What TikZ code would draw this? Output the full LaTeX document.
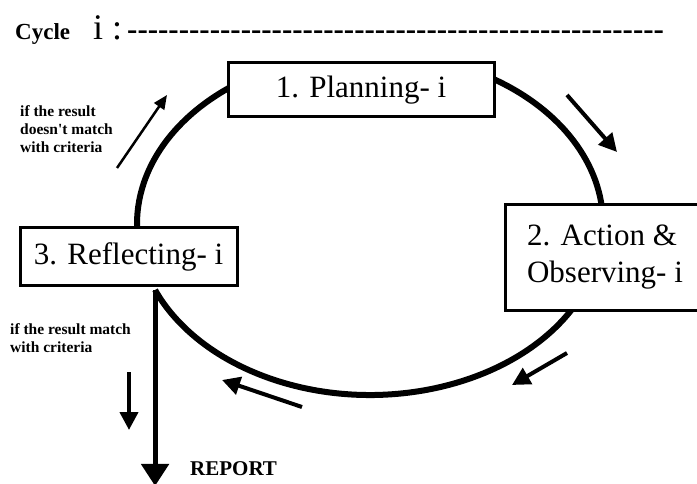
\documentclass[tikz,border=0pt]{standalone}
\usepackage{fontspec}
\setmainfont{Liberation Serif}
\usepackage{tikz}
\usetikzlibrary{arrows.meta, calc, backgrounds}

\begin{document}
\begin{tikzpicture}[
  x=1pt, y=-1pt,
  stage/.style={draw, line width=3pt, fill=white, inner sep=0pt,
    font=\fontsize{31}{37}\selectfont},
  note/.style={anchor=north west, inner sep=0pt, align=left,
    font=\bfseries\fontsize{15.5}{18}\selectfont},
  cyc/.style={line width=6pt},
  flow/.style={line width=4pt, -{Triangle[length=18pt, width=18pt]}},
  thinflow/.style={line width=2.5pt, -{Triangle[length=14pt, width=12pt]}}
]
  \useasboundingbox (0,0) rectangle (697,484);

  % Title
  \node[anchor=base west, inner sep=0pt, font=\bfseries\fontsize{23}{23}\selectfont]
    (cyclbl) at (15,40) {Cycle};
  \node[anchor=base west, inner sep=0pt, font=\fontsize{36}{36}\selectfont]
    (cycnum) at (93,40) {i :};
  \node[anchor=base west, inner sep=0pt, font=\bfseries\fontsize{31}{31}\selectfont]
    (cycdash) at (127,40) {\foreach \k in {1,...,52}{-\kern0pt}};

  % Stages
  \node[stage, minimum width=266pt, minimum height=54pt] (plan) at (361,90)
    {1. Planning- i};
  \node[stage, minimum width=200pt, minimum height=105pt, align=left] (act)
    at (605,257.5) {2. Action \&\\Observing- i};
  \node[stage, minimum width=217pt, minimum height=57pt] (refl) at (128.5,256.5)
    {3. Reflecting- i};

  % Cycle
  \coordinate (mid) at (370,224);
  \coordinate (split) at ($(mid)+(157.3:233 and 171)$);
  \coordinate (rep) at ($(split)+(0,196)$);
  \begin{scope}[on background layer]
    \draw[cyc] ($(mid)+(-60:233 and 171)$)
      arc[start angle=-60, end angle=-2, x radius=233, y radius=171];
    \draw[cyc] ($(mid)+(26:233 and 171)$)
      arc[start angle=26, end angle=157.3, x radius=233, y radius=171];
    \draw[cyc] ($(mid)+(172:233 and 171)$)
      arc[start angle=172, end angle=235, x radius=233, y radius=171];
  \end{scope}

  % Report
  \draw[line width=5pt, -{Triangle[length=22pt, width=27pt]}] (split) -- (rep);
  \node[anchor=base west, inner sep=0pt, font=\bfseries\fontsize{21}{21}\selectfont]
    (report) at (190,475) {REPORT};

  % Direction arrows
  \coordinate (up0) at (117,168);
  \coordinate (up1) at (167,95);
  \coordinate (rt0) at (567,95);
  \coordinate (rt1) at (617,152);
  \coordinate (br0) at (567,353);
  \coordinate (br1) at (512,385);
  \coordinate (bl0) at (302,407);
  \coordinate (bl1) at (222,380);
  \coordinate (dn0) at (129,372);
  \coordinate (dn1) at (129,430);
  \draw[thinflow] (up0) -- (up1);
  \draw[flow] (rt0) -- (rt1);
  \draw[flow] (br0) -- (br1);
  \draw[flow] (bl0) -- (bl1);
  \draw[flow] (dn0) -- (dn1);

  % Conditions
  \node[note] (nomatch) at (20,105)
    {if the result\\doesn\textquotesingle t match\\with criteria};
  \node[note] (match) at (10,323) {if the result match\\with criteria};
\end{tikzpicture}
\end{document}
